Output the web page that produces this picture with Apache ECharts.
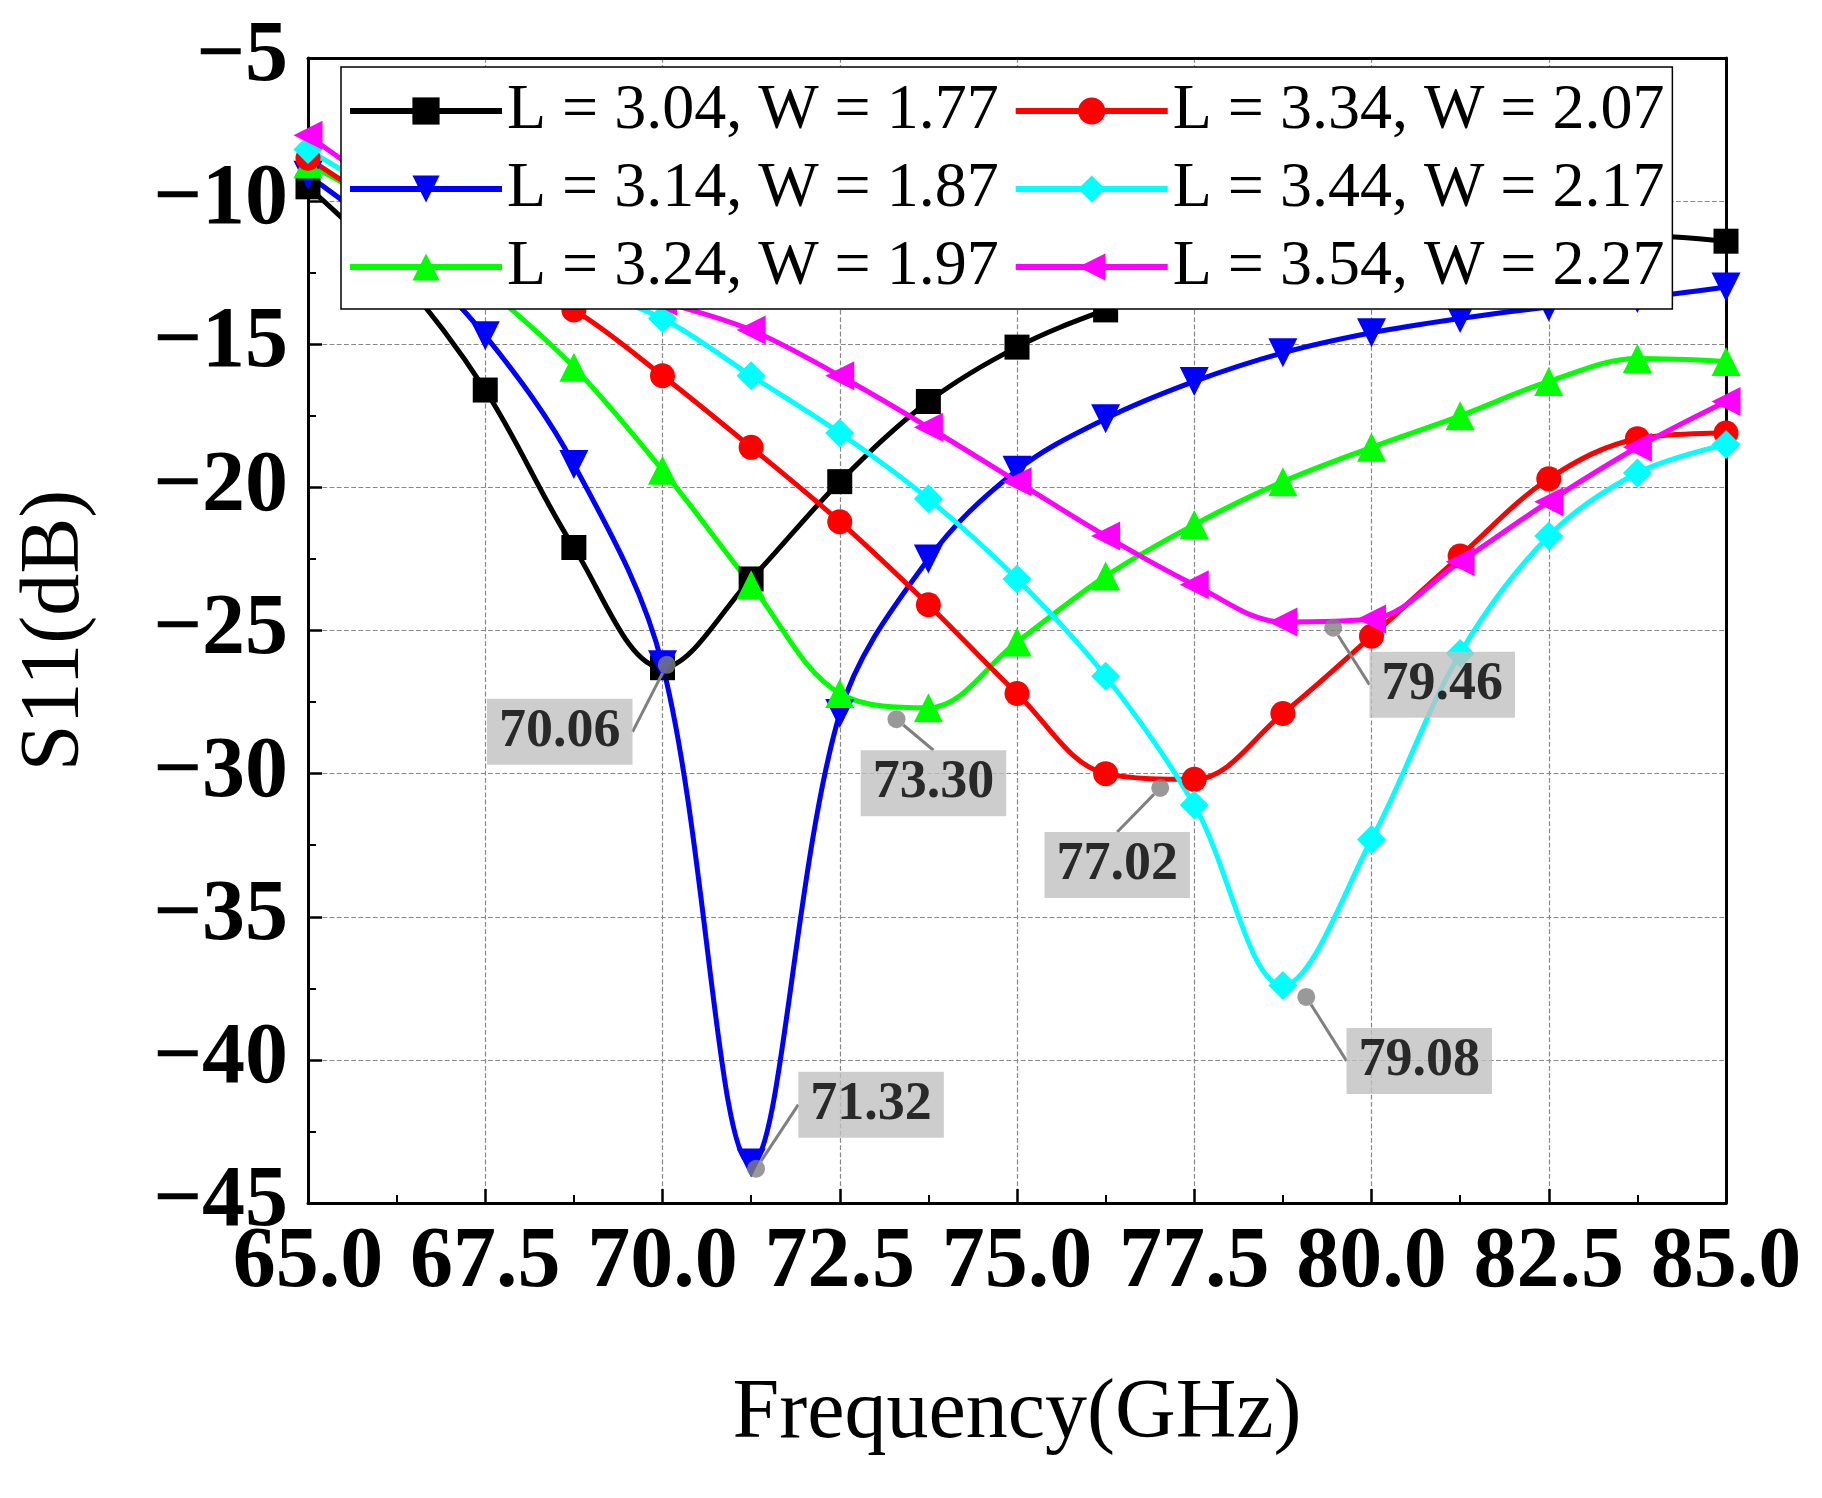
<!DOCTYPE html>
<html><head><meta charset="utf-8">
<script src="https://cdn.jsdelivr.net/npm/echarts@6/dist/echarts.min.js"></script>
<style>html,body{margin:0;background:#fff}#c{width:1822px;height:1498px}</style>
</head><body><div id="c"></div>
<script>
var freq = [65, 66.25, 67.5, 68.75, 70, 71.25, 72.5, 73.75, 75, 76.25, 77.5, 78.75, 80, 81.25, 82.5, 83.75, 85];
var names = ['L = 3.04, W = 1.77', 'L = 3.14, W = 1.87', 'L = 3.24, W = 1.97', 'L = 3.34, W = 2.07', 'L = 3.44, W = 2.17', 'L = 3.54, W = 2.27'];
var colors = ['#000000', '#0000ff', '#00ff00', '#ff0000', '#00ffff', '#ff00ff'];
var symbols = ['rect', 'path://M0,0 L10,0 L5,10 Z', 'triangle', 'circle', 'diamond', 'path://M0,5 L10,0 L10,10 Z'];
var s1 = [-9.5, -12.5, -16.6, -22.1, -26.3, -23.2, -19.8, -17.0, -15.1, -13.8, -12.8, -12.2, -11.8, -11.5, -11.3, -11.2, -11.4];
var s2 = [-9.1, -11.5, -14.7, -19.2, -26.2, -43.6, -27.9, -22.5, -19.4, -17.6, -16.3, -15.3, -14.6, -14.1, -13.7, -13.4, -13.0];
var s3 = [-8.7, -10.5, -13.0, -15.8, -19.4, -23.4, -27.2, -27.7, -25.4, -23.1, -21.3, -19.8, -18.6, -17.5, -16.3, -15.5, -15.6];
var s4 = [-8.5, -10.5, -12.3, -13.8, -16.1, -18.6, -21.2, -24.1, -27.2, -30.0, -30.2, -27.9, -25.2, -22.4, -19.7, -18.3, -18.1];
var s5 = [-8.2, -10.0, -11.5, -12.9, -14.1, -16.1, -18.1, -20.4, -23.2, -26.6, -31.1, -37.4, -32.3, -25.8, -21.7, -19.5, -18.5];
var s6 = [-7.7, -9.8, -11.3, -12.5, -13.5, -14.5, -16.1, -17.9, -19.8, -21.7, -23.4, -24.7, -24.6, -22.6, -20.5, -18.6, -17.0];
var series = [s1, s2, s3, s4, s5, s6];
// resonance annotations: [freq, dB, label dx, label dy]
var notes = [[70.06, -26.2, -107, 67], [71.32, -43.8, 115, -64], [73.30, -28.1, 37, 64],
             [77.02, -30.5, -43, 77], [79.08, -37.8, 113, 64], [79.46, -24.9, 109, 57]];

var chart = echarts.init(document.getElementById('c'));
var font = 'Liberation Serif';
var opt = {
  animation: false,
  grid: { left: 308, right: 96, top: 58, bottom: 295 },
  legend: {
    data: [names[0], names[3], names[1], names[4], names[2], names[5]],
    left: 341, top: 67, width: 1360, padding: [12, 8, 10, 6],
    orient: 'horizontal', itemWidth: 152, itemHeight: 34, itemGap: 14,
    backgroundColor: '#fff', borderColor: '#000', borderWidth: 1.5,
    lineStyle: { width: 6 },
    textStyle: { fontFamily: font, fontSize: 64, color: '#000', padding: [0, 0, 0, 0] }
  },
  xAxis: {
    type: 'value', min: 65, max: 85, interval: 2.5,
    name: 'Frequency(GHz)', nameLocation: 'middle', nameGap: 170,
    nameTextStyle: { fontFamily: font, fontSize: 84, color: '#000' },
    axisLine: { lineStyle: { color: '#000', width: 3 } },
    axisTick: { inside: true, length: 14, lineStyle: { width: 2.5 } },
    minorTick: { show: true, splitNumber: 2, length: 8, lineStyle: { color: '#000', width: 2 } },
    axisLabel: { fontFamily: font, fontWeight: 'bold', fontSize: 86, color: '#000', margin: 18,
      formatter: function (v) { return v.toFixed(1); } },
    splitLine: { show: true, lineStyle: { type: 'dashed', color: '#888', width: 1.2 } }
  },
  yAxis: {
    type: 'value', min: -45, max: -5, interval: 5,
    name: 'S11(dB)', nameLocation: 'middle', nameGap: 210,
    nameTextStyle: { fontFamily: font, fontSize: 84, color: '#000' },
    axisLine: { lineStyle: { color: '#000', width: 3 } },
    axisTick: { inside: true, length: 14, lineStyle: { width: 2.5 } },
    minorTick: { show: true, splitNumber: 2, length: 8, lineStyle: { color: '#000', width: 2 } },
    axisLabel: { fontFamily: font, fontWeight: 'bold', fontSize: 86, color: '#000', margin: 20,
      formatter: function (v) { return String(v).replace('-', '\u2212'); } },
    splitLine: { show: true, lineStyle: { type: 'dashed', color: '#888', width: 1.2 } }
  },
  series: []
};
// frame on top/right
opt.xAxis = [opt.xAxis, { type: 'value', position: 'top', min: 65, max: 85, axisLine: { lineStyle: { color: '#000', width: 3 } },
  axisTick: { show: false }, axisLabel: { show: false }, splitLine: { show: false } }];
opt.yAxis = [opt.yAxis, { type: 'value', position: 'right', min: -45, max: -5, axisLine: { lineStyle: { color: '#000', width: 3 } },
  axisTick: { show: false }, axisLabel: { show: false }, splitLine: { show: false } }];
series.forEach(function (vals, i) {
  opt.series.push({
    name: names[i], type: 'line', smooth: 0.35, z: 3,
    data: freq.map(function (f, k) { return [f, vals[k]]; }),
    symbol: symbols[i], symbolSize: i === 0 || i === 3 ? 25 : 29, showAllSymbol: true,
    lineStyle: { color: colors[i], width: 5 },
    itemStyle: { color: colors[i] }
  });
});
opt.series.push({
  type: 'scatter', z: 10, symbolSize: 18, itemStyle: { color: '#808080' },
  data: notes.map(function (n) { return [n[0], n[1]]; }),
  label: {
    show: true, position: 'inside', fontFamily: font, fontWeight: 'bold', fontSize: 54, color: '#000',
    backgroundColor: '#c0c0c0', padding: [8, 12, 4, 12],
    formatter: function (p) { return p.value[0].toFixed(2); }
  },
  labelLayout: function (p) {
    var n = notes[p.dataIndex];
    return { dx: n[2], dy: n[3] };
  },
  labelLine: { show: true, lineStyle: { color: '#808080', width: 3 } }
});
chart.setOption(opt);
</script></body></html>
